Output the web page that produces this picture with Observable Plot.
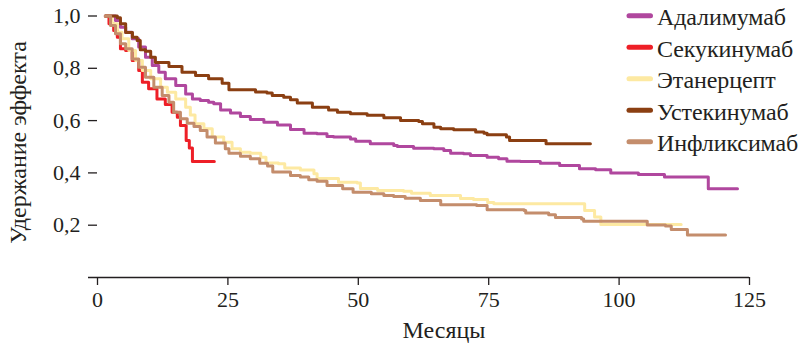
<!DOCTYPE html>
<html><head><meta charset="utf-8">
<script src="https://cdn.jsdelivr.net/npm/d3@7"></script>
<script src="https://cdn.jsdelivr.net/npm/@observablehq/plot@0.6"></script>
<style>
body{margin:0;background:#fff;}
#wrap{width:804px;height:344px;}
#wrap svg, #wrap svg text{font-family:"Liberation Serif","DejaVu Serif",serif !important;}
</style></head><body><div id="wrap"></div>
<script>
const seriesNames = ["Адалимумаб","Секукинумаб","Этанерцепт","Устекинумаб","Инфликсимаб"];
const seriesColors = ["#b0479e","#ee1f27","#fde9a2","#8b3f12","#c48d6c"];
const xTicks = [0,25,50,75,100,125];
const yTicks = [0.2,0.4,0.6,0.8,1.0];
const xLabel = "Месяцы";
const yLabel = "Удержание эффекта";

// [month, retention] (step-after)
const adalimumab = [[1.5,1.0],[3.45,0.983],[4.4,0.957],[5.4,0.938],[6.65,0.913],[7.9,0.881],[9.2,0.842],[10.5,0.811],[11.75,0.785],[13.0,0.760],[15.0,0.734],[16.9,0.702],[18.2,0.683],[19.7,0.677],[21.3,0.670],[22.3,0.664],[23.6,0.641],[25.5,0.629],[27.4,0.616],[29.3,0.604],[31.9,0.594],[34.5,0.583],[37.0,0.566],[39.6,0.552],[42.1,0.550],[44.0,0.539],[45.3,0.537],[48.5,0.530],[49.5,0.521],[52.3,0.511],[56.8,0.505],[57.5,0.501],[60.6,0.494],[64.5,0.492],[66.4,0.486],[67.7,0.475],[70.2,0.473],[71.5,0.467],[74.7,0.460],[76.9,0.454],[78.5,0.445],[81.1,0.444],[84.9,0.437],[88.6,0.428],[92.4,0.416],[95.5,0.412],[98.4,0.400],[103.7,0.394],[108.7,0.384],[117.1,0.339],[122.7,0.339]];
const secukinumab = [[1.5,1.0],[2.2,0.970],[3.1,0.945],[3.8,0.919],[4.4,0.875],[5.4,0.868],[6.65,0.830],[7.9,0.792],[8.6,0.747],[9.8,0.722],[11.4,0.683],[13.0,0.662],[14.3,0.632],[15.3,0.613],[15.9,0.581],[17.0,0.524],[17.6,0.495],[18.2,0.444],[22.4,0.444]];
const etanercept = [[1.5,1.0],[2.8,0.970],[3.8,0.938],[4.7,0.913],[6.0,0.868],[7.3,0.830],[8.6,0.792],[10.2,0.760],[12.1,0.728],[13.4,0.708],[15.0,0.683],[16.9,0.651],[17.8,0.621],[18.7,0.588],[20.4,0.569],[22.0,0.537],[24.2,0.517],[25.8,0.492],[27.4,0.479],[29.3,0.475],[31.3,0.460],[32.3,0.438],[34.7,0.435],[35.9,0.419],[38.9,0.411],[41.5,0.397],[42.1,0.379],[46.2,0.364],[49.8,0.361],[50.4,0.340],[53.7,0.333],[58.7,0.330],[60.2,0.322],[63.8,0.314],[69.6,0.302],[72.1,0.298],[74.8,0.287],[76.0,0.282],[93.4,0.256],[95.3,0.231],[96.5,0.203],[111.9,0.203]];
const ustekinumab = [[1.5,1.0],[3.8,0.993],[4.4,0.970],[5.4,0.937],[6.7,0.919],[7.6,0.906],[8.2,0.871],[9.2,0.865],[10.2,0.842],[11.1,0.822],[13.7,0.807],[16.2,0.785],[18.8,0.772],[21.3,0.760],[23.9,0.743],[25.2,0.718],[30.3,0.709],[32.5,0.706],[33.5,0.696],[35.7,0.689],[37.0,0.680],[38.3,0.667],[41.2,0.651],[44.3,0.641],[46.0,0.632],[48.5,0.626],[51.7,0.620],[54.9,0.611],[58.1,0.600],[61.6,0.597],[62.3,0.588],[64.5,0.575],[65.8,0.569],[68.3,0.565],[72.5,0.556],[74.1,0.552],[74.7,0.546],[78.4,0.537],[79.0,0.524],[86.0,0.511],[94.5,0.511]];
const infliximab = [[1.5,1.0],[2.5,0.964],[3.45,0.932],[4.4,0.894],[5.4,0.875],[6.65,0.836],[7.9,0.804],[9.2,0.766],[10.8,0.728],[12.4,0.696],[13.7,0.670],[14.6,0.632],[15.9,0.607],[17.2,0.590],[18.5,0.577],[19.7,0.562],[21.0,0.537],[22.6,0.514],[24.5,0.492],[25.2,0.475],[27.4,0.464],[29.3,0.454],[31.1,0.437],[32.6,0.426],[33.6,0.403],[37.0,0.390],[38.9,0.384],[40.5,0.374],[42.1,0.368],[44.0,0.352],[47.0,0.339],[49.0,0.326],[52.5,0.320],[54.9,0.314],[56.8,0.310],[59.0,0.303],[61.9,0.294],[65.8,0.278],[72.7,0.275],[74.7,0.259],[81.8,0.256],[82.1,0.247],[86.5,0.240],[87.8,0.229],[92.8,0.224],[93.2,0.215],[105.4,0.201],[108.9,0.197],[110.0,0.184],[113.1,0.163],[120.4,0.163]];

const allSeries = [adalimumab, secukinumab, etanercept, ustekinumab, infliximab];
const rows = [];
allSeries.forEach((s, i) => s.forEach(([m, v]) => rows.push({series: seriesNames[i], month: m, value: v})));

const ink = "#231f20";
const font = "Liberation Serif, DejaVu Serif, serif";

const plot = Plot.plot({
  width: 804, height: 344,
  marginLeft: 97, marginRight: 55, marginTop: 15.5, marginBottom: 67,
  style: {fontFamily: font, fontSize: "22px", color: ink, background: "#fff", overflow: "visible"},
  x: {domain: [0, 125]},
  y: {domain: [0, 1]},
  color: {domain: seriesNames, range: seriesColors},
  marks: [
    Plot.axisX({ticks: xTicks, tickSize: 8, tickPadding: 6, label: null, stroke: ink, strokeWidth: 1.3, strokeOpacity: 1, fontSize: 22}),
    Plot.axisY({ticks: yTicks, tickSize: 9, tickPadding: 8, label: null, line: true, stroke: ink, strokeWidth: 1.3, strokeOpacity: 1, fontSize: 22,
      tickFormat: d => d.toFixed(1).replace(".", ",")}),
    Plot.ruleY([0], {insetLeft: -9, stroke: ink, strokeWidth: 1.3}),
    Plot.line(rows, {x: "month", y: "value", z: "series", stroke: "series", strokeWidth: 3, curve: "step-after"})
  ]
});

const svg = d3.select(plot);
// axis titles
svg.append("text").attr("x", 444).attr("y", 338).attr("text-anchor", "middle")
  .attr("font-size", 24).attr("fill", ink).text(xLabel);
svg.append("text").attr("transform", "translate(26,142.5) rotate(-90)").attr("text-anchor", "middle")
  .attr("font-size", 24).attr("fill", ink).text(yLabel);
// legend
const lg = svg.append("g").attr("font-size", 24).attr("fill", ink).attr("text-anchor", "start");
seriesNames.forEach((n, i) => {
  const cy = 15.7 + i * 31.5;
  lg.append("line").attr("x1", 629).attr("x2", 650.5).attr("y1", cy).attr("y2", cy)
    .attr("stroke", seriesColors[i]).attr("stroke-width", 5).attr("stroke-linecap", "round");
  lg.append("text").attr("x", 657).attr("y", cy + 9.3).text(n);
});

document.getElementById("wrap").appendChild(plot);

// the reference face is a little wider than Liberation Serif: stretch spacing uniformly
const texts = lg.selectAll("text").nodes();
const firstLen = texts[0].getComputedTextLength();
const stretch = Math.min(1.12, 129 / firstLen);
texts.forEach(t => {
  const L = t.getComputedTextLength();
  t.setAttribute("textLength", (L * stretch).toFixed(1));
  t.setAttribute("lengthAdjust", "spacing");
});
</script></body></html>
